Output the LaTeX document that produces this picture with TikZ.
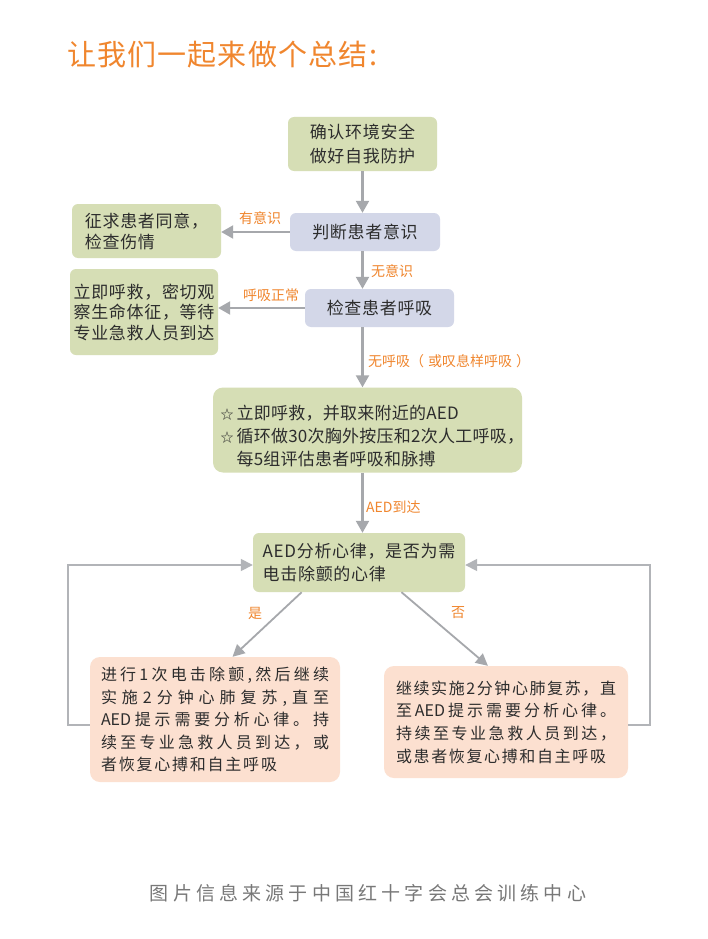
\documentclass[tikz,border=0pt]{standalone}
\usepackage{fontspec}
\setmainfont{Noto Sans CJK SC}
\newfontfamily\cjkA[LetterSpace=4]{Noto Sans CJK SC}
\newfontfamily\cjkB[LetterSpace=1.5]{Noto Sans CJK SC}
\newfontfamily\cjkT[LetterSpace=4]{Noto Sans CJK SC}
\newfontfamily\cjkF[LetterSpace=22]{Noto Sans CJK SC}
\usetikzlibrary{arrows.meta,calc}
\definecolor{gbox}{RGB}{214,222,181}
\definecolor{lbox}{RGB}{211,215,232}
\definecolor{pbox}{RGB}{252,224,208}
\definecolor{orng}{RGB}{240,134,46}
\definecolor{arrg}{RGB}{166,168,172}
\definecolor{loopg}{RGB}{178,180,184}
\definecolor{txt}{RGB}{45,45,45}
\definecolor{foot}{RGB}{120,120,120}
\newcommand\AED{AED}
\newcommand\wstar{\makebox[16pt][l]{\fontsize{13}{13}\selectfont ☆}}
\def\spx#1{\ifx\relax#1\else\hfil#1\expandafter\spx\fi}
\def\spreadA#1{#1\spx}
\newcommand\sprd[2]{\hbox to #1pt{\spreadA#2\relax}}
\tikzset{
  boxbase/.style={rounded corners=6pt, inner sep=0pt, text=txt},
  gnode/.style={boxbase, fill=gbox},
  lnode/.style={boxbase, fill=lbox},
  pnode/.style={boxbase, fill=pbox, rounded corners=10pt},
  arr/.style={draw=arrg, line width=2.2pt, -{Triangle[width=13pt,length=12pt]}},
  diag/.style={draw=arrg, line width=1.8pt, -{Triangle[width=12pt,length=12pt]}},
  loopl/.style={draw=loopg, line width=1.6pt, -{Triangle[width=12pt,length=12pt]}},
  lbl/.style={text=orng, font=\fontsize{14}{16}\selectfont, inner sep=0pt}
}
\begin{document}
\begin{tikzpicture}[x=1pt,y=-1pt]
\fill[white] (0,0) rectangle (708,939);
\useasboundingbox (0,0) rectangle (708,939);

\node[anchor=west, text=orng, inner sep=0pt, font=\cjkT\fontsize{29}{32}\selectfont] (title) at (67,55) {让我们一起来做个总结\hspace{2pt}:};

\node[gnode, minimum width=149, minimum height=54, align=center,
      font=\cjkA\fontsize{17}{24}\selectfont] (b1) at (362.5,144) {确认环境安全\\做好自我防护};
\node[lnode, minimum width=150, minimum height=38,
      font=\cjkA\fontsize{17}{24}\selectfont] (b2) at (365,232) {判断患者意识};
\node[gnode, minimum width=149, minimum height=54, align=left,
      font=\cjkA\fontsize{17}{21}\selectfont] (b3) at (146.5,231) {征求患者同意，\\检查伤情\hspace{52pt}};
\node[lnode, minimum width=149, minimum height=38,
      font=\cjkA\fontsize{17}{24}\selectfont] (b4) at (379.5,308) {检查患者呼吸};
\node[gnode, minimum width=148, minimum height=86, align=left,
      font=\cjkA\fontsize{17}{20.5}\selectfont] (b5) at (144,312) {立即呼救，密切观\\察生命体征，等待\\专业急救人员到达};
\node[gnode, rounded corners=10pt, minimum width=309, minimum height=85,
      text width=294pt, inner xsep=7.5pt, align=left,
      font=\cjkB\fontsize{17}{23}\selectfont] (b6) at (367.5,430) {\rule{0pt}{26pt}\wstar 立即呼救，并取来附近的AED\\\wstar 循环做30次胸外按压和2次人工呼吸，\\\hspace{16pt}每5组评估患者呼吸和脉搏};
\node[gnode, minimum width=212, minimum height=59, align=left,
      font=\cjkA\fontsize{17}{23}\selectfont] (b7) at (359,562.5) {AED分析心律，是否为需\\电击除颤的心律\hspace{75pt}};
\node[pnode, minimum width=250, minimum height=125, align=left,
      font=\fontsize{16}{22.5}\selectfont] (b8) at (215,719.5) {\sprd{228}{进行1次电击除颤,然后继续}\\\sprd{228}{实施2分钟心肺复苏,直至}\\\sprd{228}{{\AED}提示需要分析心律。持}\\\sprd{228}{续至专业急救人员到达，或}\\\sprd{176}{者恢复心搏和自主呼吸}};
\node[pnode, minimum width=244, minimum height=112, align=left,
      font=\fontsize{16}{22.7}\selectfont] (b9) at (506,722) {\sprd{220}{继续实施2分钟心肺复苏，直}\\\sprd{220}{至{\AED}提示需要分析心律。}\\\sprd{220}{持续至专业急救人员到达，}\\\sprd{210}{或患者恢复心搏和自主呼吸}};

\draw[arr] (b1.south) -- (b2.north -| b1.south);
\draw[arr] (b2.west) -- (b3.east |- b2.west);
\draw[arr] (b2.south -| b1.south) -- (b4.north -| b1.south);
\draw[arr] (b4.west) -- (b5.east |- b4.west);
\draw[arr] (b4.south -| b1.south) -- (b6.north -| b1.south);
\draw[arr] (b6.south -| b1.south) -- (b7.north -| b1.south);
\draw[diag] ($(b7.south west)!0.23!(b7.south east)$) -- ($(b8.north west)!0.57!(b8.north east)$);
\draw[diag] ($(b7.south west)!0.70!(b7.south east)$) -- ($(b9.north west)!0.426!(b9.north east)$);
\draw[loopl] ([yshift=-5.5pt]b8.west) -- ++(-22,0) |- ([yshift=-2.5pt]b7.west);
\draw[loopl] ([yshift=-3pt]b9.east) -- ++(22,0) |- ([yshift=-2.5pt]b7.east);

\node[lbl] (l1) at (260,218) {有意识};
\node[lbl, anchor=west] (l2) at (371,271) {无意识};
\node[lbl] (l3) at (271,295) {呼吸正常};
\node[lbl, anchor=west] (l4) at (368,361) {无呼吸（\hspace{4pt}或叹息样呼吸\hspace{4pt}）};
\node[lbl, anchor=west] (l5) at (366,507) {AED到达};
\node[lbl] (l6) at (255,613) {是};
\node[lbl] (l7) at (458,613) {否};

\node[text=foot, inner sep=0pt, font=\cjkF\fontsize{19}{22}\selectfont] (ft) at (368,893) {图片信息来源于中国红十字会总会训练中心};
\end{tikzpicture}
\end{document}
